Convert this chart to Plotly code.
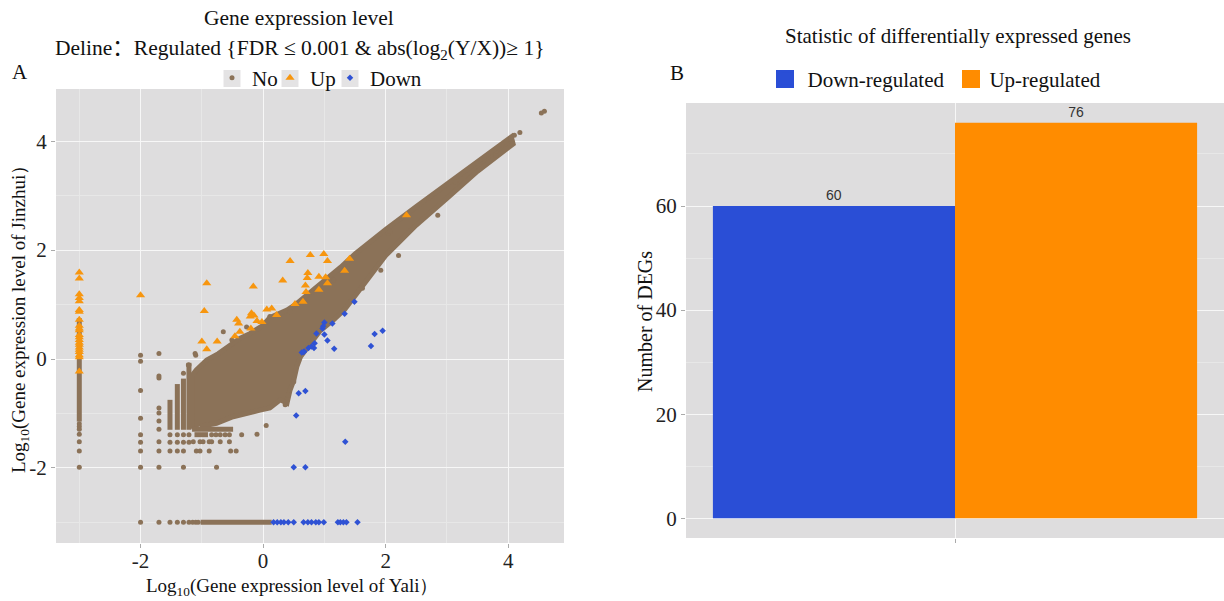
import plotly.graph_objects as go

W, H = 1224, 601

# ------------------------------------------------------------------
# Panel A data (log10 expression)
# ------------------------------------------------------------------
# dense core of the "No" cloud (outline of the merged dots)
core_x = [-1.16, -1.16, -1.09, -0.92, -0.73, -0.54, -0.38, -0.21, 0.00, 0.11, 0.39,
          0.55, 1.00, 1.26, 1.50, 1.75, 2.00, 2.50, 3.00, 3.50, 3.90, 4.05,
          4.08, 3.50, 3.00, 2.50, 2.00, 1.70, 1.49, 1.33, 1.15, 0.93, 0.77, 0.61,
          0.55, 0.50, 0.44, 0.39, 0.28, 0.11, -0.05, -0.27, -0.49, -0.76, -1.03]
core_y = [-1.28, -0.30, -0.20, -0.02, 0.10, 0.26, 0.38, 0.47, 0.62, 0.76, 0.90,
          1.02, 1.42, 1.68, 1.93, 2.16, 2.38, 2.80, 3.22, 3.63, 3.98, 4.08,
          3.95, 3.45, 2.95, 2.46, 1.90, 1.47, 1.14, 0.91, 0.72, 0.52, 0.28, 0.04,
          -0.14, -0.39, -0.57, -0.81, -0.75, -0.90, -0.94, -1.00, -1.06, -1.18, -1.24]

# merged strips of "No" dots (start/end of each run, None separates runs)
strip_x = [-3.00, -3.00, None, -1.02, 0.14, None, -1.52, -1.52, None, -1.40, -1.40, None,
           -1.30, -1.30, None, -1.21, -1.21, None, -1.16, -0.49, None, -1.12, -0.90]
strip_y = [0.75, -1.15, None, -3.00, -3.00, None, -0.75, -1.30, None, -0.46, -1.30, None,
           -0.36, -1.30, None, -0.07, -1.30, None, -1.29, -1.29, None, -1.39, -1.39]

# isolated "No" dots
no_x = [-3.00, -3.00, -3.00, -3.00, -3.00, -3.00, -3.00,
        -2.00, -1.70, -1.52, -1.40, -1.30, -1.21, -1.15, -1.10, -1.06,
        -2.00, -2.00, -2.00, -2.00, -2.00, -2.00, -2.00, -2.00,
        -1.70, -1.70, -1.70, -1.70, -1.70, -1.70, -1.70, -1.70, -1.70, -1.70,
        -1.52, -1.52, -1.52, -1.40, -1.40, -1.40, -1.30, -1.30, -1.30, -1.30, -1.30,
        -1.21, -1.21, -1.21,
        -0.84, -0.77, -0.70, -0.62, -0.55, -0.35, -0.10,
        -1.14, -1.03, -0.98, -0.88, -0.84, -0.70, -0.55,
        -1.09, -1.03, -0.88, -0.53, -0.44, -0.76,
        -1.10, -1.22, -1.11, 0.05, 0.36, 0.50, 0.41,
        -0.65, -0.51, -0.27, 0.11, 0.44, 0.80, 1.15,
        2.21, 2.85, 1.92, 2.04, 2.07, 3.14, 3.80, 1.62, 2.70,
        4.10, 4.19, 4.54, 4.59]
no_y = [-1.19, -1.24, -1.29, -1.38, -1.52, -1.69, -1.99,
        -3.00, -3.00, -3.00, -3.00, -3.00, -3.00, -3.00, -3.00, -3.00,
        0.07, -0.04, -0.58, -1.09, -1.39, -1.53, -1.69, -1.99,
        0.10, -0.31, -0.35, -0.90, -0.99, -1.14, -1.29, -1.52, -1.69, -1.99,
        -1.39, -1.53, -1.69, -1.39, -1.53, -1.69, -0.26, -1.39, -1.53, -1.69, -1.99,
        -0.11, -1.39, -1.53,
        -1.39, -1.39, -1.39, -1.39, -1.39, -1.39, -1.38,
        -1.52, -1.52, -1.52, -1.52, -1.52, -1.52, -1.52,
        -1.69, -1.69, -1.69, -1.69, -1.69, -1.99,
        0.07, -0.11, 0.10, -1.22, -0.84, -0.42, -0.66,
        0.50, 0.35, 0.59, 0.78, 0.87, 1.22, 1.45,
        1.90, 2.64, 1.63, 2.31, 2.34, 3.25, 3.74, 1.30, 2.95,
        4.11, 4.16, 4.52, 4.55]

# up-regulated genes
up_x = [-3.00, -3.00, -3.00, -3.00, -3.00, -3.00, -3.00, -3.00, -3.00, -3.00, -3.00,
        -3.00, -3.00, -3.00, -3.00, -3.00, -3.00, -3.00, -3.00, -3.00, -3.00, -3.00,
        -2.00, -0.92, -0.96, -0.16, 0.44, 0.77, 0.99, 1.05, 0.73, 0.72, 0.32, 0.91,
        1.02, 0.69, 1.05, 0.70, 0.91, 0.06, 0.14, -0.19, -0.15, -0.21, -0.43, -0.40,
        0.52, 0.22, 0.65, -0.46, -0.38, -1.00, -0.92, -0.75, -0.10, -0.20, -0.02,
        2.34, 1.41, 1.33]
up_y = [1.59, 1.48, 1.19, 1.12, 1.06, 0.90, 0.87, 0.72, 0.61, 0.56, 0.53,
        0.44, 0.40, 0.35, 0.30, 0.26, 0.21, 0.17, 0.13, 0.07, 0.03, -0.23,
        1.17, 1.39, 0.88, 1.33, 1.80, 1.91, 1.93, 1.80, 1.58, 1.49, 1.44, 1.51,
        1.50, 1.35, 1.39, 1.23, 1.27, 0.91, 0.93, 0.84, 0.80, 0.78, 0.72, 0.65,
        1.01, 0.81, 1.05, 0.42, 0.50, 0.32, 0.18, 0.32, 0.70, 0.56, 0.68,
        2.64, 1.84, 1.62]

# down-regulated genes
down_x = [1.49, 1.33, 1.13, 1.00, 0.97, 0.87, 1.00, 1.05, 0.84, 0.83, 0.74, 1.16,
          0.63, 0.67, 1.82, 1.95, 1.76, 0.58, 0.69, 0.54, 1.34, 0.50, 0.69, 0.79,
          0.66, 0.98,
          0.17, 0.23, 0.29, 0.34, 0.41, 0.50, 0.66, 0.73, 0.79, 0.86, 0.91, 0.99,
          1.22, 1.26, 1.31, 1.36, 1.54]
down_y = [1.05, 0.83, 0.65, 0.67, 0.56, 0.47, 0.45, 0.34, 0.29, 0.20, 0.20, 0.19,
          0.12, 0.14, 0.46, 0.52, 0.24, -0.63, -0.59, -1.04, -1.52, -1.99, -1.99, 0.23,
          0.13, 0.60,
          -3.00, -3.00, -3.00, -3.00, -3.00, -3.00, -3.00, -3.00, -3.00, -3.00, -3.00, -3.00,
          -3.00, -3.00, -3.00, -3.00, -3.00]

a_xticks = [-2, 0, 2, 4]
a_xtick_text = ["-2", "0", "2", "4"]
a_yticks = [-2, 0, 2, 4]
a_ytick_text = ["-2", "0", "2", "4"]

# ------------------------------------------------------------------
# Panel B data
# ------------------------------------------------------------------
deg_groups = ["Down-regulated", "Up-regulated"]
deg_counts = [60, 76]
b_yticks = [0, 20, 40, 60]

# ------------------------------------------------------------------
BROWN = "#8B7258"
ORANGE_PT = "#F7960F"
BLUE_PT = "#2F52D4"
BLUE_BAR = "#2A4ED6"
ORANGE_BAR = "#FF8C00"
PANEL = "#DEDDDE"
KEYBOX = "#E4E3E4"
SERIF = "Liberation Serif, Times New Roman, serif"
SANS = "Liberation Sans, Arial, sans-serif"

fig = go.Figure()

fig.add_trace(go.Scatter(x=core_x, y=core_y, mode="lines", fill="toself",
                         fillcolor=BROWN, line=dict(color=BROWN, width=5),
                         showlegend=False, hoverinfo="skip", xaxis="x", yaxis="y"))
fig.add_trace(go.Scatter(x=strip_x, y=strip_y, mode="lines",
                         line=dict(color=BROWN, width=5),
                         showlegend=False, hoverinfo="skip", xaxis="x", yaxis="y"))
fig.add_trace(go.Scatter(x=no_x, y=no_y, mode="markers", name="No",
                         marker=dict(color=BROWN, size=5, line=dict(width=0)),
                         legend="legend", xaxis="x", yaxis="y"))
fig.add_trace(go.Scatter(x=up_x, y=up_y, mode="markers", name="Up",
                         marker=dict(color=ORANGE_PT, size=8, symbol="triangle-up",
                                     line=dict(width=0)),
                         legend="legend3", xaxis="x", yaxis="y"))
fig.add_trace(go.Scatter(x=down_x, y=down_y, mode="markers", name="Down",
                         marker=dict(color=BLUE_PT, size=5, symbol="diamond",
                                     line=dict(width=0)),
                         legend="legend4", xaxis="x", yaxis="y"))

bar_colors = [BLUE_BAR, ORANGE_BAR]
for g, c, col in zip(deg_groups, deg_counts, bar_colors):
    fig.add_trace(go.Bar(x=["DEG"], y=[c], name=g, marker=dict(color=col, line=dict(width=0)),
                         text=[str(c)], textposition="outside",
                         textfont=dict(family=SANS, size=14, color="#333333"),
                         cliponaxis=False, legend="legend2", xaxis="x2", yaxis="y2"))

grid_major = "#F7F7F7"
grid_minor = "#E7E7E7"
tickfont = dict(family=SERIF, size=21, color="#222222")
legfont = dict(family=SERIF, size=21, color="#111111")


def key_legend(left_px):
    return dict(orientation="h", x=left_px / W, xanchor="left", y=(H - 78) / H,
                yanchor="middle", bgcolor="rgba(0,0,0,0)", font=legfont, itemwidth=30)


# symbol centres of the panel-A legend keys (px)
KEY_CX = (232, 290, 350)

fig.update_layout(
    width=W, height=H,
    margin=dict(l=0, r=0, t=0, b=0),
    paper_bgcolor="white", plot_bgcolor=PANEL,
    barmode="group", bargap=0.1, bargroupgap=0,
    showlegend=True,
    xaxis=dict(domain=[56 / W, 564 / W], range=[-3.38, 4.91], anchor="y",
               tickvals=a_xticks, ticktext=a_xtick_text, ticks="outside", ticklen=4,
               tickcolor="#AAAAAA", showgrid=True, gridcolor=grid_major, gridwidth=1.4,
               minor=dict(tickvals=[-3, -1, 1, 3], showgrid=True, gridcolor=grid_minor,
                          gridwidth=1),
               ticklabelstandoff=-5,
               zeroline=False, showline=False, tickfont=tickfont),
    yaxis=dict(domain=[(H - 543) / H, (H - 89) / H], range=[-3.38, 4.96], anchor="x",
               tickvals=a_yticks, ticktext=a_ytick_text, ticks="outside", ticklen=4,
               tickcolor="#AAAAAA", showgrid=True, gridcolor=grid_major, gridwidth=1.4,
               minor=dict(tickvals=[-3, -1, 1, 3], showgrid=True, gridcolor=grid_minor,
                          gridwidth=1),
               zeroline=False, showline=False, tickfont=tickfont),
    xaxis2=dict(domain=[686 / W, 1.0], anchor="y2", range=[-0.5, 0.5],
                showticklabels=False, ticks="outside", ticklen=4, tickcolor="#AAAAAA",
                showgrid=True, gridcolor=grid_major, gridwidth=1.4, zeroline=False),
    yaxis2=dict(domain=[(H - 538) / H, (H - 103) / H], anchor="x2", range=[-3.8, 79.8],
                tickvals=b_yticks, ticks="outside", ticklen=4, tickcolor="#AAAAAA",
                showgrid=True, gridcolor=grid_major, gridwidth=1.4,
                minor=dict(tickvals=[10, 30, 50, 70], showgrid=True, gridcolor=grid_minor,
                           gridwidth=1),
                zeroline=False, showline=False, tickfont=tickfont),
    legend=key_legend(KEY_CX[0] - 20),
    legend3=key_legend(KEY_CX[1] - 20),
    legend4=key_legend(KEY_CX[2] - 20),
    legend2=dict(orientation="h", x=937 / W, xanchor="center", y=(H - 79) / H,
                 yanchor="middle", bgcolor="rgba(0,0,0,0)", font=legfont, itemwidth=30),
)

# grey key boxes behind the panel-A legend symbols
for cx in KEY_CX:
    fig.add_shape(type="rect", xref="paper", yref="paper", x0=(cx - 8.5) / W,
                  x1=(cx + 8.5) / W, y0=(H - 87) / H, y1=(H - 70) / H,
                  fillcolor=KEYBOX, line=dict(width=0))
# larger legend swatches for panel B (drawn beneath the legend's own swatches)
fig.add_shape(type="rect", xref="paper", yref="paper", x0=776 / W, x1=794 / W,
              y0=(H - 88) / H, y1=(H - 70) / H, fillcolor=BLUE_BAR, line=dict(width=0))
fig.add_shape(type="rect", xref="paper", yref="paper", x0=962 / W, x1=980 / W,
              y0=(H - 88) / H, y1=(H - 70) / H, fillcolor=ORANGE_BAR, line=dict(width=0))

COLON = "<span style=\"font-family:'Noto Sans CJK SC'\">：</span>"
ann = [
    dict(text="Gene expression level", x=299 / W, y=(H - 18) / H, size=21.5),
    dict(text="Deline" + COLON + "Regulated {FDR ≤ 0.001 & abs(log<sub>2</sub>(Y/X))≥ 1}",
         x=299 / W, y=(H - 46) / H, size=21.5),
    dict(text="A", x=20 / W, y=(H - 72) / H, size=21),
    dict(text="Statistic of differentially expressed genes", x=958 / W, y=(H - 36) / H, size=21),
    dict(text="B", x=677 / W, y=(H - 73) / H, size=21),
    dict(text="Log<sub>10</sub>(Gene expression level of Yali）", x=292 / W, y=(H - 587) / H,
         size=19),
]
for a in ann:
    fig.add_annotation(text=a["text"], x=a["x"], y=a["y"], xref="paper", yref="paper",
                       xanchor="center", yanchor="middle", showarrow=False,
                       font=dict(family=SERIF, size=a["size"], color="#111111"))
fig.add_annotation(text="Log<sub>10</sub>(Gene expression level of Jinzhui）",
                   x=20 / W, y=(H - 315) / H, xref="paper", yref="paper",
                   xanchor="center", yanchor="middle", textangle=-90, showarrow=False,
                   font=dict(family=SERIF, size=19, color="#111111"))
fig.add_annotation(text="Number of DEGs", x=645 / W, y=(H - 322) / H, xref="paper",
                   yref="paper", xanchor="center", yanchor="middle", textangle=-90,
                   showarrow=False, font=dict(family=SERIF, size=20, color="#111111"))

fig.write_html("out.html")
